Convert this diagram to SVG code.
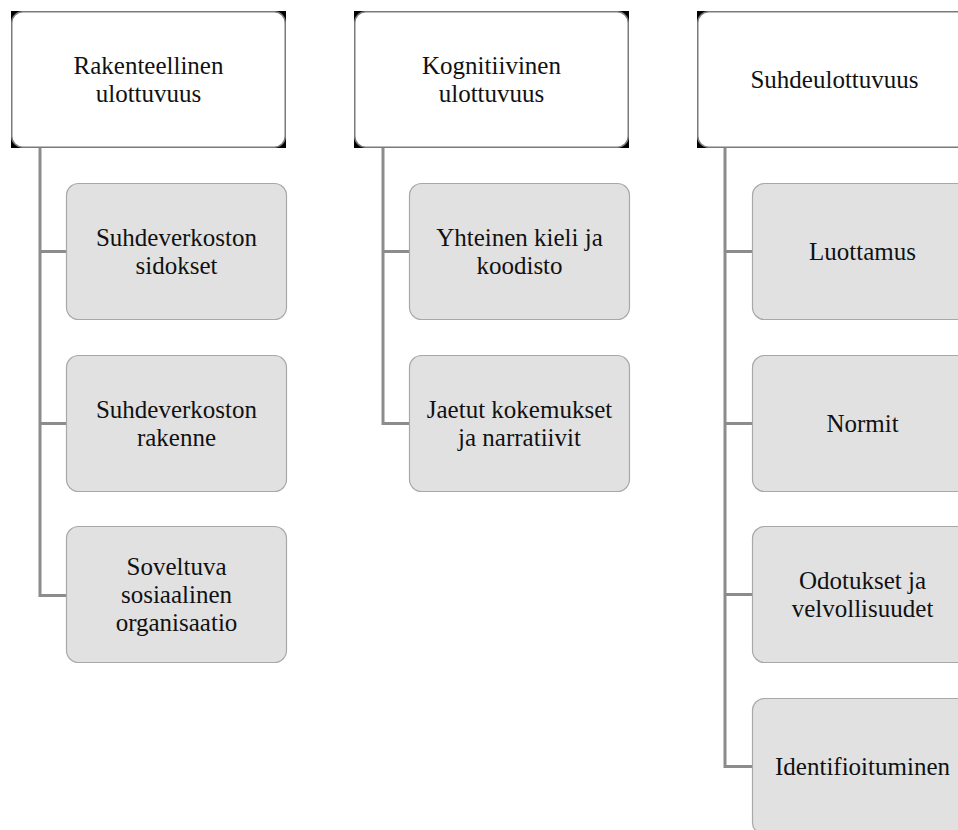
<svg xmlns="http://www.w3.org/2000/svg" width="958" height="830" viewBox="0 0 958 830">
<style>
.hb{fill:#000}
.hw{fill:#fff;stroke:#7a7a7a;stroke-width:1.5}
.cb{fill:#e1e1e1;stroke:#a8a8a8;stroke-width:1.2}
.t{font-family:"Liberation Serif","Times New Roman",serif;font-size:25px;fill:#111;text-anchor:middle}
.c{fill:none;stroke:#8c8c8c;stroke-width:3}
</style>
<rect width="958" height="830" fill="#fff"/>
<g id="connectors">
<path class="c" d="M40,148V595.5H66M40,251.5H66M40,423.5H66"/>
<path class="c" d="M383,148V423.5H409M383,251.5H409"/>
<path class="c" d="M725,148V766.5H752M725,251.5H752M725,423.5H752M725,594.5H752"/>
</g>
<g id="h1">
<rect class="hb" x="11" y="11" width="275" height="137"/>
<rect class="hw" x="11.75" y="11.75" width="273.5" height="135.5" rx="11"/>
<text class="t" x="148.5" y="74">Rakenteellinen</text>
<text class="t" x="148.5" y="102">ulottuvuus</text>
</g>
<g id="h2">
<rect class="hb" x="354" y="11" width="275" height="137"/>
<rect class="hw" x="354.75" y="11.75" width="273.5" height="135.5" rx="11"/>
<text class="t" x="491.5" y="74">Kognitiivinen</text>
<text class="t" x="491.5" y="102">ulottuvuus</text>
</g>
<g id="h3">
<rect class="hb" x="697" y="11" width="275" height="137"/>
<rect class="hw" x="697.75" y="11.75" width="273.5" height="135.5" rx="11"/>
<text class="t" x="834.5" y="88">Suhdeulottuvuus</text>
</g>
<g id="c1a">
<rect class="cb" x="66.5" y="183.5" width="220" height="136" rx="12"/>
<text class="t" x="176.5" y="245.5">Suhdeverkoston</text>
<text class="t" x="176.5" y="273.5">sidokset</text>
</g>
<g id="c1b">
<rect class="cb" x="66.5" y="355.5" width="220" height="136" rx="12"/>
<text class="t" x="176.5" y="417.5">Suhdeverkoston</text>
<text class="t" x="176.5" y="445.5">rakenne</text>
</g>
<g id="c1c">
<rect class="cb" x="66.5" y="526.5" width="220" height="136" rx="12"/>
<text class="t" x="176.5" y="574.5">Soveltuva</text>
<text class="t" x="176.5" y="602.5">sosiaalinen</text>
<text class="t" x="176.5" y="630.5">organisaatio</text>
</g>
<g id="c2a">
<rect class="cb" x="409.5" y="183.5" width="220" height="136" rx="12"/>
<text class="t" x="519.5" y="245.5">Yhteinen kieli ja</text>
<text class="t" x="519.5" y="273.5">koodisto</text>
</g>
<g id="c2b">
<rect class="cb" x="409.5" y="355.5" width="220" height="136" rx="12"/>
<text class="t" x="519.5" y="417.5">Jaetut kokemukset</text>
<text class="t" x="519.5" y="445.5">ja narratiivit</text>
</g>
<g id="c3a">
<rect class="cb" x="752.5" y="183.5" width="220" height="136" rx="12"/>
<text class="t" x="862.5" y="259.5">Luottamus</text>
</g>
<g id="c3b">
<rect class="cb" x="752.5" y="355.5" width="220" height="136" rx="12"/>
<text class="t" x="862.5" y="431.5">Normit</text>
</g>
<g id="c3c">
<rect class="cb" x="752.5" y="526.5" width="220" height="136" rx="12"/>
<text class="t" x="862.5" y="588.5">Odotukset ja</text>
<text class="t" x="862.5" y="616.5">velvollisuudet</text>
</g>
<g id="c3d">
<rect class="cb" x="752.5" y="698.5" width="220" height="136" rx="12"/>
<text class="t" x="862.5" y="775">Identifioituminen</text>
</g>
</svg>
